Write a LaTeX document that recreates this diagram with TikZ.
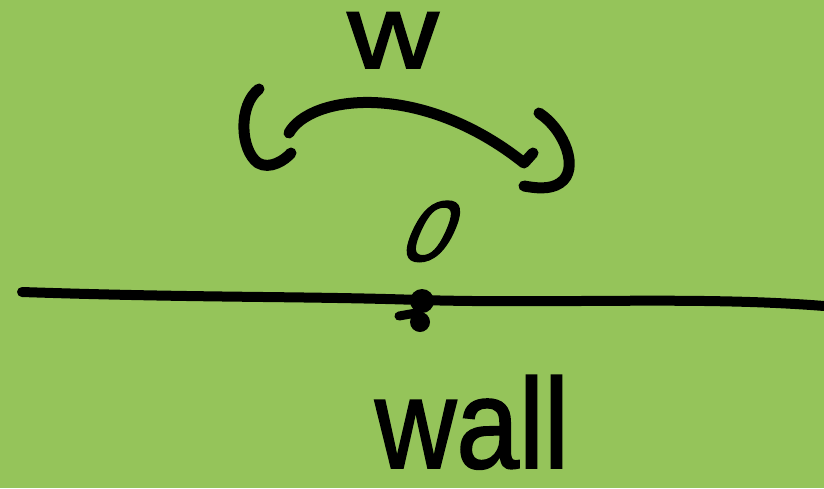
\documentclass[tikz,border=0pt]{standalone}
\usepackage{fontspec}
\setmainfont{Liberation Sans}
\newfontfamily\handfont[FakeBold=1.5]{Liberation Sans}
\definecolor{bggreen}{RGB}{149,196,90}
\tikzset{
  ink/.style={line width=11pt, line cap=round, line join=round, draw=black},
  hand/.style={inner sep=0pt, text=black, transform shape, text depth=0pt, font=\handfont}
}
\begin{document}
\begin{tikzpicture}[x=1pt,y=1pt]
\fill[bggreen] (0,0) rectangle (824,-488);
\useasboundingbox (0,0) rectangle (824,-488);
% axis line
\draw[ink, line width=10pt] (22,-292) .. controls (200,-298) and (300,-296) .. (420,-300) .. controls (560,-304) and (700,-296) .. (824,-306);
% origin blob
\fill[black] (422,-301) circle (12);
\fill[black] (420,-322) circle (10);
\draw[ink, line width=9pt] (399,-316) -- (416,-313);
% left bracket
\draw[ink] (259,-89) .. controls (238,-105) and (240,-150) .. (258,-163) .. controls (270,-170) and (285,-160) .. (291,-153);
% arrow arc
\draw[ink] (289,-133) .. controls (310,-95) and (420,-80) .. (524,-163) -- (533,-153);
% right bracket
\draw[ink] (539,-113) .. controls (565,-130) and (580,-170) .. (560,-183) .. controls (550,-190) and (535,-188) .. (524,-186);
% labels
\node[hand, anchor=base, xscale=1.2, text height=55pt] (w) at (393,-68) {\fontsize{105}{105}\selectfont w};
\node[hand, anchor=base, xslant=0.45] (zero) at (420,-261) {\fontsize{86}{86}\selectfont 0};
\node[hand, anchor=base, xscale=0.88, text height=92pt] (wall) at (472,-468) {\fontsize{128}{128}\selectfont wall};
\end{tikzpicture}
\end{document}
